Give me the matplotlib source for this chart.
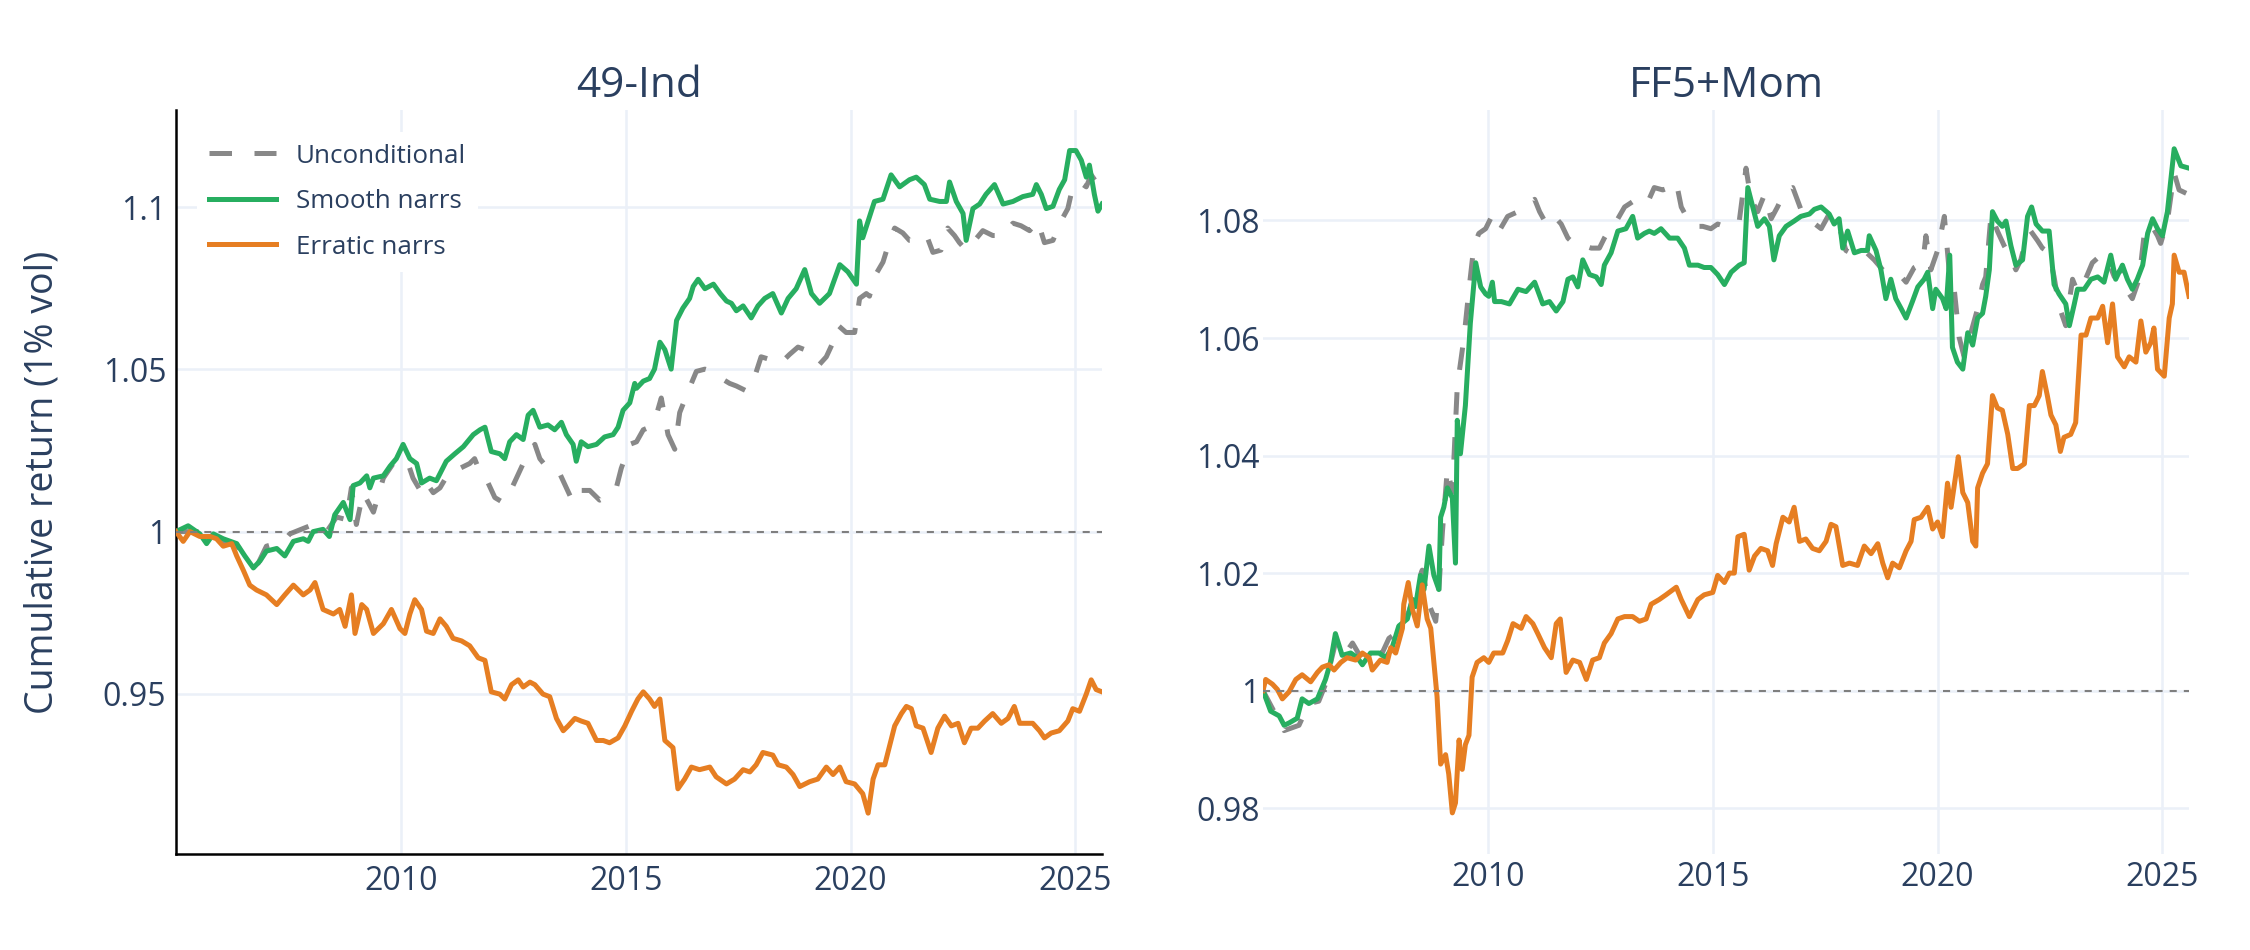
import numpy as np
import matplotlib
matplotlib.use("Agg")
import matplotlib.pyplot as plt

# series are (decimal year, cumulative return) pairs
ind_uncond = np.array([
    (2005.00, 1.0000), (2005.53, 1.0000), (2005.83, 0.9978), (2006.35, 0.9955), (2006.68, 0.9918),
    (2006.83, 0.9903), (2007.01, 0.9955), (2007.39, 0.9970), (2007.53, 0.9993), (2008.05, 1.0022),
    (2008.35, 1.0000), (2008.57, 1.0045), (2008.79, 1.0037), (2008.90, 1.0135), (2009.01, 1.0022),
    (2009.16, 1.0120), (2009.39, 1.0060), (2009.61, 1.0165), (2009.83, 1.0210), (2010.05, 1.0225),
    (2010.16, 1.0210), (2010.27, 1.0165), (2010.46, 1.0120), (2010.57, 1.0150), (2010.72, 1.0120),
    (2010.87, 1.0135), (2011.09, 1.0187), (2011.31, 1.0195), (2011.53, 1.0210), (2011.64, 1.0225),
    (2011.79, 1.0172), (2011.94, 1.0150), (2012.09, 1.0105), (2012.27, 1.0090), (2012.42, 1.0120),
    (2012.57, 1.0165), (2012.72, 1.0210), (2012.83, 1.0240), (2012.98, 1.0269), (2013.09, 1.0225),
    (2013.31, 1.0187), (2013.53, 1.0180), (2013.68, 1.0135), (2013.83, 1.0090), (2014.01, 1.0127),
    (2014.20, 1.0127), (2014.42, 1.0097), (2014.64, 1.0112), (2014.79, 1.0135), (2014.90, 1.0195),
    (2015.09, 1.0269), (2015.24, 1.0277), (2015.39, 1.0314), (2015.53, 1.0322), (2015.68, 1.0359),
    (2015.79, 1.0412), (2015.94, 1.0299), (2016.09, 1.0254), (2016.20, 1.0367), (2016.39, 1.0434),
    (2016.57, 1.0494), (2016.76, 1.0501), (2016.94, 1.0494), (2017.13, 1.0472), (2017.31, 1.0457),
    (2017.46, 1.0449), (2017.68, 1.0434), (2017.87, 1.0479), (2018.01, 1.0539), (2018.20, 1.0531),
    (2018.42, 1.0516), (2018.64, 1.0546), (2018.83, 1.0569), (2018.98, 1.0561), (2019.13, 1.0531),
    (2019.31, 1.0516), (2019.46, 1.0539), (2019.61, 1.0584), (2019.72, 1.0636), (2019.90, 1.0614),
    (2020.09, 1.0614), (2020.20, 1.0719), (2020.35, 1.0734), (2020.42, 1.0726), (2020.53, 1.0786),
    (2020.72, 1.0831), (2020.87, 1.0898), (2020.98, 1.0936), (2021.16, 1.0921), (2021.31, 1.0898),
    (2021.50, 1.0898), (2021.69, 1.0913), (2021.83, 1.0861), (2022.01, 1.0868), (2022.16, 1.0936),
    (2022.31, 1.0913), (2022.42, 1.0891), (2022.57, 1.0868), (2022.76, 1.0898), (2022.94, 1.0928),
    (2023.16, 1.0913), (2023.39, 1.0913), (2023.61, 1.0951), (2023.79, 1.0943), (2023.98, 1.0928),
    (2024.16, 1.0958), (2024.31, 1.0891), (2024.50, 1.0898), (2024.68, 1.0958), (2024.83, 1.0996),
    (2024.94, 1.1063), (2025.09, 1.1078), (2025.24, 1.1063), (2025.35, 1.1100), (2025.50, 1.1070),
    (2025.59, 1.1055),
])

ind_smooth = np.array([
    (2005.00, 1.0000), (2005.27, 1.0018), (2005.53, 0.9993), (2005.68, 0.9963), (2005.83, 0.9993),
    (2006.05, 0.9978), (2006.35, 0.9963), (2006.53, 0.9925), (2006.72, 0.9888), (2006.87, 0.9910),
    (2007.01, 0.9940), (2007.24, 0.9948), (2007.42, 0.9925), (2007.61, 0.9970), (2007.83, 0.9978),
    (2007.94, 0.9970), (2008.05, 1.0000), (2008.27, 1.0007), (2008.41, 0.9985), (2008.53, 1.0052),
    (2008.72, 1.0090), (2008.87, 1.0037), (2008.94, 1.0142), (2009.09, 1.0150), (2009.24, 1.0172),
    (2009.31, 1.0135), (2009.39, 1.0165), (2009.61, 1.0172), (2009.76, 1.0202), (2009.90, 1.0225),
    (2010.05, 1.0269), (2010.20, 1.0225), (2010.35, 1.0210), (2010.46, 1.0150), (2010.64, 1.0165),
    (2010.79, 1.0157), (2011.01, 1.0217), (2011.20, 1.0240), (2011.39, 1.0262), (2011.61, 1.0299),
    (2011.76, 1.0314), (2011.87, 1.0322), (2012.01, 1.0247), (2012.20, 1.0240), (2012.31, 1.0225),
    (2012.42, 1.0277), (2012.57, 1.0299), (2012.72, 1.0284), (2012.83, 1.0359), (2012.94, 1.0374),
    (2013.09, 1.0322), (2013.27, 1.0329), (2013.42, 1.0314), (2013.57, 1.0337), (2013.68, 1.0299),
    (2013.83, 1.0269), (2013.90, 1.0217), (2014.01, 1.0277), (2014.16, 1.0262), (2014.35, 1.0269),
    (2014.53, 1.0292), (2014.72, 1.0299), (2014.83, 1.0322), (2014.94, 1.0374), (2015.09, 1.0397),
    (2015.20, 1.0457), (2015.24, 1.0442), (2015.39, 1.0464), (2015.53, 1.0472), (2015.64, 1.0501),
    (2015.76, 1.0584), (2015.87, 1.0561), (2016.01, 1.0501), (2016.13, 1.0651), (2016.27, 1.0689),
    (2016.42, 1.0719), (2016.50, 1.0756), (2016.61, 1.0778), (2016.76, 1.0749), (2016.95, 1.0763),
    (2017.10, 1.0734), (2017.24, 1.0711), (2017.35, 1.0704), (2017.46, 1.0681), (2017.61, 1.0696),
    (2017.79, 1.0659), (2017.94, 1.0696), (2018.09, 1.0719), (2018.27, 1.0734), (2018.46, 1.0674),
    (2018.61, 1.0719), (2018.79, 1.0749), (2018.98, 1.0808), (2019.13, 1.0734), (2019.31, 1.0704),
    (2019.53, 1.0734), (2019.76, 1.0823), (2019.94, 1.0801), (2020.13, 1.0763), (2020.20, 1.0958),
    (2020.27, 1.0906), (2020.39, 1.0958), (2020.53, 1.1018), (2020.72, 1.1025), (2020.90, 1.1100),
    (2021.09, 1.1063), (2021.31, 1.1085), (2021.46, 1.1093), (2021.64, 1.1070), (2021.76, 1.1025),
    (2021.98, 1.1018), (2022.13, 1.1018), (2022.20, 1.1078), (2022.35, 1.1018), (2022.50, 1.0981),
    (2022.57, 1.0898), (2022.72, 1.0996), (2022.87, 1.1010), (2023.01, 1.1040), (2023.20, 1.1070),
    (2023.39, 1.1010), (2023.61, 1.1018), (2023.83, 1.1033), (2024.05, 1.1040), (2024.13, 1.1070),
    (2024.24, 1.1040), (2024.35, 1.0996), (2024.50, 1.1003), (2024.64, 1.1055), (2024.76, 1.1085),
    (2024.87, 1.1175), (2025.01, 1.1175), (2025.13, 1.1145), (2025.24, 1.1093), (2025.31, 1.1130),
    (2025.42, 1.1040), (2025.50, 1.0988), (2025.59, 1.1010),
])

ind_erratic = np.array([
    (2005.00, 1.0000), (2005.16, 0.9970), (2005.31, 1.0000), (2005.53, 0.9985), (2005.76, 0.9985),
    (2005.90, 0.9978), (2006.05, 0.9955), (2006.24, 0.9963), (2006.35, 0.9925), (2006.50, 0.9880),
    (2006.64, 0.9835), (2006.79, 0.9820), (2007.01, 0.9805), (2007.24, 0.9775), (2007.42, 0.9805),
    (2007.61, 0.9835), (2007.83, 0.9805), (2007.98, 0.9820), (2008.09, 0.9843), (2008.27, 0.9760),
    (2008.50, 0.9746), (2008.64, 0.9760), (2008.76, 0.9708), (2008.90, 0.9805), (2008.98, 0.9686),
    (2009.13, 0.9775), (2009.24, 0.9760), (2009.39, 0.9686), (2009.61, 0.9716), (2009.79, 0.9760),
    (2009.98, 0.9701), (2010.09, 0.9686), (2010.20, 0.9746), (2010.31, 0.9790), (2010.46, 0.9760),
    (2010.57, 0.9693), (2010.72, 0.9686), (2010.87, 0.9731), (2011.01, 0.9708), (2011.16, 0.9671),
    (2011.35, 0.9663), (2011.53, 0.9648), (2011.72, 0.9611), (2011.87, 0.9603), (2012.01, 0.9506),
    (2012.20, 0.9499), (2012.31, 0.9484), (2012.46, 0.9528), (2012.61, 0.9543), (2012.72, 0.9521),
    (2012.87, 0.9536), (2012.98, 0.9528), (2013.16, 0.9499), (2013.31, 0.9491), (2013.46, 0.9424),
    (2013.61, 0.9386), (2013.72, 0.9401), (2013.87, 0.9424), (2014.01, 0.9416), (2014.16, 0.9409),
    (2014.35, 0.9356), (2014.50, 0.9356), (2014.64, 0.9349), (2014.83, 0.9364), (2014.98, 0.9401),
    (2015.13, 0.9446), (2015.27, 0.9484), (2015.39, 0.9506), (2015.53, 0.9484), (2015.64, 0.9461),
    (2015.76, 0.9484), (2015.87, 0.9356), (2016.05, 0.9334), (2016.16, 0.9207), (2016.31, 0.9237),
    (2016.46, 0.9274), (2016.64, 0.9266), (2016.87, 0.9274), (2017.01, 0.9244), (2017.24, 0.9222),
    (2017.42, 0.9237), (2017.61, 0.9266), (2017.76, 0.9259), (2017.90, 0.9281), (2018.05, 0.9319),
    (2018.27, 0.9311), (2018.39, 0.9281), (2018.57, 0.9274), (2018.72, 0.9251), (2018.87, 0.9214),
    (2019.09, 0.9229), (2019.27, 0.9237), (2019.46, 0.9274), (2019.61, 0.9251), (2019.76, 0.9274),
    (2019.90, 0.9229), (2020.09, 0.9222), (2020.27, 0.9192), (2020.39, 0.9132), (2020.50, 0.9237),
    (2020.61, 0.9281), (2020.76, 0.9281), (2020.87, 0.9341), (2020.98, 0.9401), (2021.13, 0.9439),
    (2021.24, 0.9461), (2021.35, 0.9454), (2021.46, 0.9401), (2021.61, 0.9394), (2021.79, 0.9319),
    (2021.94, 0.9394), (2022.09, 0.9431), (2022.24, 0.9401), (2022.39, 0.9409), (2022.53, 0.9349),
    (2022.68, 0.9394), (2022.83, 0.9394), (2022.98, 0.9416), (2023.16, 0.9439), (2023.35, 0.9409),
    (2023.50, 0.9424), (2023.64, 0.9461), (2023.76, 0.9409), (2023.90, 0.9409), (2024.05, 0.9409),
    (2024.20, 0.9386), (2024.31, 0.9364), (2024.46, 0.9379), (2024.64, 0.9386), (2024.83, 0.9416),
    (2024.94, 0.9454), (2025.09, 0.9446), (2025.24, 0.9499), (2025.35, 0.9543), (2025.46, 0.9513),
    (2025.59, 0.9506),
])

ff_uncond = np.array([
    (2005.00, 1.0000), (2005.47, 0.9932), (2005.80, 0.9941), (2006.02, 0.9978), (2006.24, 0.9982),
    (2006.39, 1.0011), (2006.61, 1.0081), (2006.80, 1.0060), (2006.99, 1.0081), (2007.21, 1.0052),
    (2007.43, 1.0064), (2007.65, 1.0064), (2007.80, 1.0089), (2007.95, 1.0097), (2008.10, 1.0114),
    (2008.24, 1.0134), (2008.39, 1.0172), (2008.54, 1.0205), (2008.69, 1.0147), (2008.84, 1.0118),
    (2008.91, 1.0172), (2008.99, 1.0271), (2009.10, 1.0378), (2009.21, 1.0337), (2009.32, 1.0518),
    (2009.47, 1.0601), (2009.58, 1.0683), (2009.69, 1.0757), (2009.80, 1.0778), (2009.95, 1.0786),
    (2010.06, 1.0803), (2010.22, 1.0778), (2010.44, 1.0807), (2010.67, 1.0815), (2011.04, 1.0836),
    (2011.15, 1.0815), (2011.30, 1.0794), (2011.48, 1.0807), (2011.63, 1.0794), (2011.78, 1.0770),
    (2011.96, 1.0757), (2012.15, 1.0757), (2012.30, 1.0753), (2012.48, 1.0753), (2012.59, 1.0770),
    (2012.74, 1.0790), (2012.89, 1.0803), (2013.04, 1.0823), (2013.22, 1.0832), (2013.41, 1.0840),
    (2013.56, 1.0832), (2013.70, 1.0856), (2013.89, 1.0852), (2014.04, 1.0856), (2014.19, 1.0865),
    (2014.30, 1.0823), (2014.44, 1.0803), (2014.59, 1.0790), (2014.78, 1.0790), (2014.96, 1.0786),
    (2015.11, 1.0794), (2015.26, 1.0790), (2015.44, 1.0790), (2015.59, 1.0799), (2015.74, 1.0889),
    (2015.85, 1.0836), (2016.00, 1.0815), (2016.15, 1.0844), (2016.30, 1.0803), (2016.44, 1.0823),
    (2016.59, 1.0848), (2016.78, 1.0856), (2016.96, 1.0819), (2017.19, 1.0799), (2017.41, 1.0786),
    (2017.59, 1.0811), (2017.78, 1.0799), (2017.96, 1.0749), (2018.15, 1.0741), (2018.37, 1.0749),
    (2018.59, 1.0733), (2018.78, 1.0716), (2018.96, 1.0712), (2019.15, 1.0708), (2019.30, 1.0695),
    (2019.48, 1.0720), (2019.67, 1.0728), (2019.74, 1.0774), (2019.85, 1.0716), (2020.00, 1.0749),
    (2020.15, 1.0807), (2020.26, 1.0712), (2020.37, 1.0683), (2020.48, 1.0601), (2020.59, 1.0568),
    (2020.74, 1.0609), (2020.89, 1.0650), (2021.00, 1.0691), (2021.07, 1.0704), (2021.19, 1.0811),
    (2021.33, 1.0782), (2021.48, 1.0757), (2021.63, 1.0737), (2021.74, 1.0716), (2021.85, 1.0733),
    (2021.96, 1.0766), (2022.07, 1.0782), (2022.22, 1.0766), (2022.33, 1.0753), (2022.48, 1.0745),
    (2022.59, 1.0704), (2022.70, 1.0654), (2022.85, 1.0621), (2023.00, 1.0700), (2023.11, 1.0679),
    (2023.26, 1.0695), (2023.44, 1.0728), (2023.63, 1.0741), (2023.78, 1.0733), (2023.93, 1.0704),
    (2024.07, 1.0716), (2024.19, 1.0683), (2024.33, 1.0667), (2024.48, 1.0700), (2024.59, 1.0774),
    (2024.74, 1.0794), (2024.89, 1.0774), (2024.96, 1.0761), (2025.11, 1.0799), (2025.26, 1.0881),
    (2025.37, 1.0852), (2025.59, 1.0844),
])

ff_smooth = np.array([
    (2005.00, 1.0000), (2005.17, 0.9965), (2005.36, 0.9957), (2005.47, 0.9941), (2005.58, 0.9945),
    (2005.76, 0.9953), (2005.87, 0.9986), (2006.02, 0.9978), (2006.21, 0.9986), (2006.39, 1.0019),
    (2006.50, 1.0048), (2006.61, 1.0097), (2006.76, 1.0060), (2006.95, 1.0064), (2007.10, 1.0056),
    (2007.21, 1.0044), (2007.39, 1.0064), (2007.58, 1.0064), (2007.73, 1.0056), (2007.87, 1.0073),
    (2008.02, 1.0110), (2008.21, 1.0122), (2008.32, 1.0155), (2008.39, 1.0143), (2008.50, 1.0196),
    (2008.58, 1.0172), (2008.69, 1.0246), (2008.80, 1.0196), (2008.91, 1.0172), (2008.95, 1.0295),
    (2009.02, 1.0312), (2009.10, 1.0345), (2009.21, 1.0328), (2009.28, 1.0217), (2009.32, 1.0460),
    (2009.39, 1.0403), (2009.50, 1.0485), (2009.61, 1.0625), (2009.73, 1.0728), (2009.84, 1.0687),
    (2009.95, 1.0675), (2010.02, 1.0671), (2010.10, 1.0695), (2010.15, 1.0662), (2010.30, 1.0662),
    (2010.48, 1.0658), (2010.67, 1.0683), (2010.85, 1.0679), (2011.04, 1.0695), (2011.22, 1.0658),
    (2011.37, 1.0662), (2011.52, 1.0646), (2011.67, 1.0662), (2011.78, 1.0700), (2011.89, 1.0704),
    (2012.00, 1.0687), (2012.11, 1.0733), (2012.26, 1.0708), (2012.41, 1.0704), (2012.52, 1.0691),
    (2012.59, 1.0724), (2012.74, 1.0745), (2012.89, 1.0782), (2013.07, 1.0786), (2013.22, 1.0807),
    (2013.33, 1.0770), (2013.48, 1.0778), (2013.59, 1.0782), (2013.70, 1.0778), (2013.85, 1.0786),
    (2014.04, 1.0770), (2014.22, 1.0770), (2014.37, 1.0753), (2014.48, 1.0724), (2014.67, 1.0724),
    (2014.81, 1.0720), (2014.96, 1.0720), (2015.11, 1.0708), (2015.26, 1.0691), (2015.41, 1.0712),
    (2015.59, 1.0724), (2015.70, 1.0728), (2015.78, 1.0856), (2015.89, 1.0823), (2016.00, 1.0790),
    (2016.15, 1.0803), (2016.26, 1.0790), (2016.36, 1.0733), (2016.48, 1.0774), (2016.63, 1.0790),
    (2016.81, 1.0799), (2016.96, 1.0807), (2017.15, 1.0811), (2017.26, 1.0819), (2017.41, 1.0823),
    (2017.59, 1.0811), (2017.70, 1.0794), (2017.81, 1.0803), (2017.89, 1.0753), (2018.00, 1.0782),
    (2018.15, 1.0745), (2018.30, 1.0749), (2018.44, 1.0749), (2018.48, 1.0774), (2018.63, 1.0749),
    (2018.74, 1.0716), (2018.85, 1.0667), (2018.96, 1.0700), (2019.07, 1.0667), (2019.19, 1.0650),
    (2019.30, 1.0634), (2019.44, 1.0662), (2019.56, 1.0687), (2019.70, 1.0700), (2019.78, 1.0712),
    (2019.89, 1.0650), (2019.96, 1.0683), (2020.11, 1.0667), (2020.19, 1.0650), (2020.27, 1.0741),
    (2020.33, 1.0584), (2020.44, 1.0559), (2020.56, 1.0547), (2020.67, 1.0609), (2020.78, 1.0588),
    (2020.89, 1.0634), (2021.00, 1.0642), (2021.07, 1.0671), (2021.15, 1.0716), (2021.22, 1.0815),
    (2021.33, 1.0799), (2021.44, 1.0790), (2021.52, 1.0799), (2021.63, 1.0757), (2021.74, 1.0724),
    (2021.89, 1.0733), (2022.00, 1.0807), (2022.09, 1.0823), (2022.19, 1.0794), (2022.33, 1.0782),
    (2022.48, 1.0782), (2022.59, 1.0691), (2022.70, 1.0675), (2022.85, 1.0658), (2022.93, 1.0621),
    (2023.04, 1.0658), (2023.11, 1.0683), (2023.26, 1.0683), (2023.41, 1.0700), (2023.56, 1.0704),
    (2023.70, 1.0695), (2023.85, 1.0741), (2023.96, 1.0700), (2024.11, 1.0724), (2024.22, 1.0700),
    (2024.33, 1.0683), (2024.44, 1.0700), (2024.56, 1.0724), (2024.67, 1.0778), (2024.78, 1.0803),
    (2024.89, 1.0786), (2025.00, 1.0774), (2025.11, 1.0815), (2025.26, 1.0922), (2025.41, 1.0893),
    (2025.59, 1.0889),
])

ff_erratic = np.array([
    (2005.00, 1.0000), (2005.06, 1.0019), (2005.21, 1.0011), (2005.32, 1.0002), (2005.43, 0.9986),
    (2005.58, 0.9998), (2005.73, 1.0019), (2005.87, 1.0027), (2006.06, 1.0015), (2006.21, 1.0031),
    (2006.32, 1.0040), (2006.47, 1.0044), (2006.58, 1.0035), (2006.73, 1.0048), (2006.87, 1.0056),
    (2007.06, 1.0052), (2007.21, 1.0064), (2007.36, 1.0056), (2007.43, 1.0035), (2007.61, 1.0052),
    (2007.76, 1.0048), (2007.84, 1.0073), (2007.95, 1.0064), (2008.10, 1.0106), (2008.13, 1.0147),
    (2008.23, 1.0184), (2008.32, 1.0139), (2008.43, 1.0110), (2008.54, 1.0180), (2008.65, 1.0122),
    (2008.73, 1.0106), (2008.80, 1.0048), (2008.87, 0.9990), (2008.95, 0.9875), (2009.06, 0.9891),
    (2009.13, 0.9858), (2009.21, 0.9792), (2009.28, 0.9809), (2009.36, 0.9916), (2009.43, 0.9866),
    (2009.50, 0.9908), (2009.58, 0.9924), (2009.65, 1.0023), (2009.76, 1.0048), (2009.91, 1.0056),
    (2010.02, 1.0048), (2010.13, 1.0064), (2010.19, 1.0064), (2010.33, 1.0064), (2010.44, 1.0085),
    (2010.56, 1.0114), (2010.74, 1.0106), (2010.85, 1.0126), (2011.00, 1.0114), (2011.11, 1.0097),
    (2011.26, 1.0073), (2011.41, 1.0056), (2011.52, 1.0114), (2011.61, 1.0122), (2011.74, 1.0031),
    (2011.89, 1.0052), (2012.04, 1.0048), (2012.19, 1.0019), (2012.33, 1.0052), (2012.48, 1.0056),
    (2012.59, 1.0081), (2012.74, 1.0097), (2012.89, 1.0122), (2013.04, 1.0126), (2013.22, 1.0126),
    (2013.37, 1.0118), (2013.52, 1.0122), (2013.63, 1.0147), (2013.81, 1.0155), (2013.96, 1.0163),
    (2014.19, 1.0176), (2014.30, 1.0155), (2014.48, 1.0126), (2014.67, 1.0155), (2014.81, 1.0163),
    (2015.00, 1.0167), (2015.11, 1.0196), (2015.26, 1.0184), (2015.37, 1.0200), (2015.48, 1.0200),
    (2015.56, 1.0262), (2015.70, 1.0266), (2015.81, 1.0205), (2015.93, 1.0229), (2016.07, 1.0242),
    (2016.22, 1.0238), (2016.33, 1.0213), (2016.41, 1.0250), (2016.56, 1.0295), (2016.70, 1.0287),
    (2016.81, 1.0312), (2016.93, 1.0254), (2017.07, 1.0258), (2017.22, 1.0242), (2017.37, 1.0238),
    (2017.52, 1.0254), (2017.63, 1.0283), (2017.74, 1.0279), (2017.89, 1.0213), (2018.04, 1.0217),
    (2018.22, 1.0213), (2018.37, 1.0246), (2018.52, 1.0233), (2018.67, 1.0250), (2018.78, 1.0217),
    (2018.89, 1.0192), (2019.00, 1.0217), (2019.15, 1.0209), (2019.30, 1.0238), (2019.41, 1.0254),
    (2019.48, 1.0291), (2019.63, 1.0295), (2019.78, 1.0312), (2019.89, 1.0275), (2020.00, 1.0287),
    (2020.11, 1.0262), (2020.22, 1.0353), (2020.30, 1.0312), (2020.41, 1.0370), (2020.46, 1.0398),
    (2020.56, 1.0337), (2020.67, 1.0320), (2020.78, 1.0254), (2020.85, 1.0246), (2020.89, 1.0345),
    (2021.00, 1.0370), (2021.11, 1.0386), (2021.22, 1.0502), (2021.33, 1.0481), (2021.44, 1.0477),
    (2021.56, 1.0436), (2021.67, 1.0378), (2021.78, 1.0378), (2021.93, 1.0386), (2022.04, 1.0485),
    (2022.15, 1.0485), (2022.26, 1.0502), (2022.33, 1.0543), (2022.44, 1.0502), (2022.52, 1.0469),
    (2022.63, 1.0452), (2022.73, 1.0407), (2022.81, 1.0431), (2022.96, 1.0436), (2023.07, 1.0456),
    (2023.19, 1.0605), (2023.30, 1.0605), (2023.41, 1.0634), (2023.56, 1.0634), (2023.67, 1.0654),
    (2023.78, 1.0592), (2023.89, 1.0658), (2024.00, 1.0568), (2024.15, 1.0551), (2024.26, 1.0568),
    (2024.41, 1.0559), (2024.52, 1.0629), (2024.63, 1.0576), (2024.74, 1.0592), (2024.81, 1.0617),
    (2024.89, 1.0547), (2025.04, 1.0535), (2025.15, 1.0634), (2025.22, 1.0658), (2025.26, 1.0741),
    (2025.37, 1.0712), (2025.48, 1.0712), (2025.59, 1.0671),
])

titles = ["49-Ind", "FF5+Mom"]
series_names = ["Unconditional", "Smooth narrs", "Erratic narrs"]
year_ticks = [2010, 2015, 2020, 2025]
ind_yticks = [0.95, 1.0, 1.05, 1.1]
ind_ylabels = ["0.95", "1", "1.05", "1.1"]
ff_yticks = [0.98, 1.0, 1.02, 1.04, 1.06, 1.08]
ff_ylabels = ["0.98", "1", "1.02", "1.04", "1.06", "1.08"]

TXT = "#2a3f5f"
GRID = "#ebf0f8"
COLORS = ["#888888", "#27ae60", "#e67e22"]
LW = 3.6

plt.rcParams["font.family"] = ["Open Sans", "DejaVu Sans"]

fig = plt.figure(figsize=(22.5, 9.5), dpi=100)
W, H = 2250, 950
ax1 = fig.add_axes([176 / W, 1 - 854 / H, 926 / W, 744 / H])
ax2 = fig.add_axes([1263 / W, 1 - 854 / H, 926 / W, 744 / H])


def draw(ax, data, title, yticks, ylabels, ylim, xpad, ypad):
    for d, name, c in zip(data, series_names, COLORS):
        if name == "Unconditional":
            ax.plot(d[:, 0], d[:, 1], color=c, lw=LW, dashes=(4.5, 4.5), label=name, zorder=2)
        else:
            ax.plot(d[:, 0], d[:, 1], color=c, lw=LW, label=name, zorder=3)
    ax.axhline(1.0, color="#7f7f7f", lw=1.5, dashes=(3.4, 3.4), zorder=4)
    ax.set_xlim(2005.0, 2025.59)
    ax.set_ylim(*ylim)
    ax.set_xticks(year_ticks)
    ax.set_xticklabels([str(y) for y in year_ticks])
    ax.set_yticks(yticks)
    ax.set_yticklabels(ylabels)
    ax.grid(True, color=GRID, lw=1.8, zorder=0)
    ax.set_axisbelow(True)
    ax.tick_params(axis="both", length=0, labelsize=23, labelcolor=TXT)
    ax.tick_params(axis="x", pad=xpad)
    ax.tick_params(axis="y", pad=ypad)
    ax.set_title(title, fontsize=30.5, color=TXT, pad=9.4)
    for s in ax.spines.values():
        s.set_visible(False)


draw(ax1, [ind_uncond, ind_smooth, ind_erratic], titles[0], ind_yticks, ind_ylabels,
     (0.9006, 1.130), 8.0, 7.0)
draw(ax2, [ff_uncond, ff_smooth, ff_erratic], titles[1], ff_yticks, ff_ylabels,
     (0.9722, 1.0988), 5.0, 2.5)

for side in ["left", "bottom"]:
    ax1.spines[side].set_visible(True)
    ax1.spines[side].set_color("black")
    ax1.spines[side].set_linewidth(1.8)

leg = ax1.legend(loc="upper left", bbox_to_anchor=(0.0227, 0.971), fontsize=18.7,
                 labelcolor=TXT, frameon=True, facecolor="white", edgecolor="none",
                 framealpha=1.0, fancybox=False, handlelength=2.58, handletextpad=0.77,
                 borderpad=0.46, borderaxespad=0, labelspacing=0.79)
leg.set_zorder(5)

fig.text(43 / W, 1 - 482 / H, "Cumulative return (1% vol)", rotation=90,
         ha="center", va="center", fontsize=27, color=TXT)

fig.savefig("out.png", dpi=100, facecolor="white")
